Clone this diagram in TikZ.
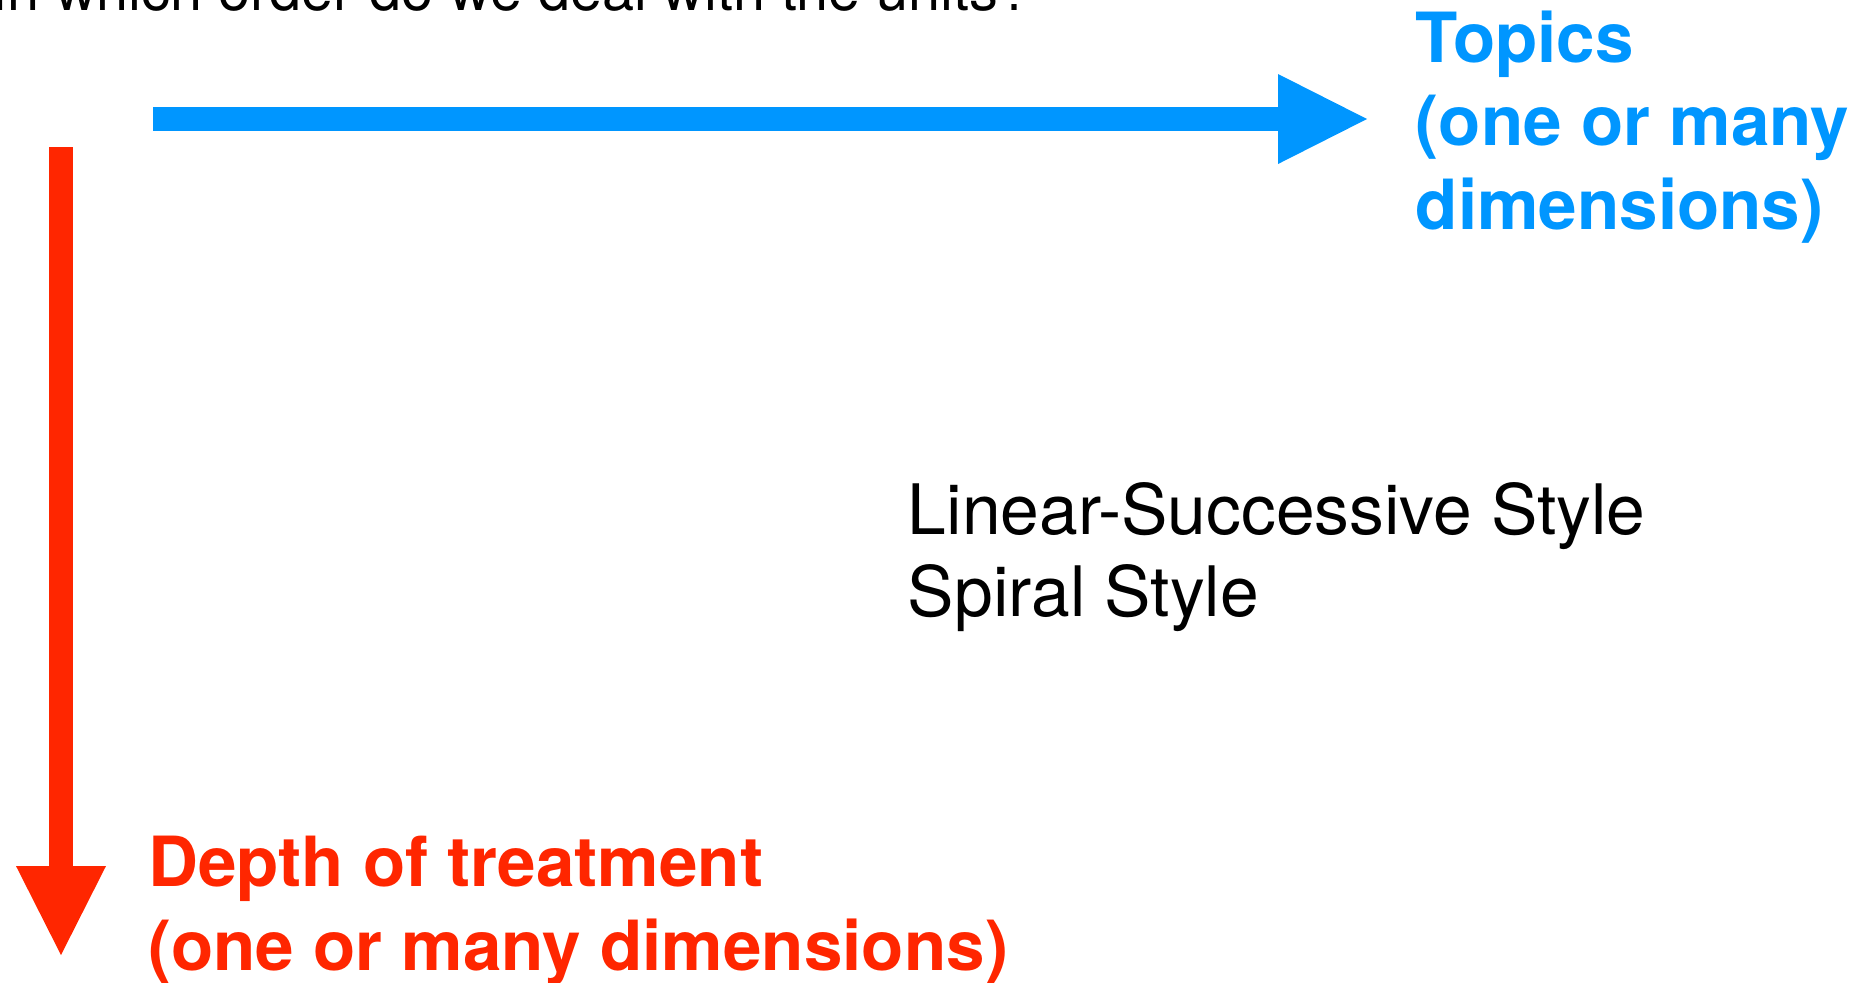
\documentclass[tikz,border=0pt]{standalone}
\usepackage{fontspec}
\setmainfont{TeX Gyre Heros}
\usetikzlibrary{arrows.meta}
\definecolor{topicblue}{RGB}{0,150,255}
\definecolor{depthred}{RGB}{255,38,0}
\tikzset{
  axisarrow/.style={line width=12pt,
    -{Triangle[length=44.5pt,width=45pt,line width=0pt]}},
  % multi-line nodes: the base anchor sits on the last line
  axistext/.style={inner sep=0pt, anchor=base west, align=left,
    font=\bfseries\fontsize{34.6pt}{41.7pt}\selectfont},
  bodytext/.style={inner sep=0pt, anchor=base west, align=left,
    font=\fontsize{34.8pt}{41pt}\selectfont},
}
\begin{document}
\begin{tikzpicture}[x=0.5pt,y=-0.5pt]
\useasboundingbox (0,0) rectangle (1872,982);

% heading, partly above the top edge
\node[inner sep=0pt, anchor=base east, font=\fontsize{28.8pt}{34pt}\selectfont]
  (question) at (1031,10) {In which order do we deal with the units?};

% horizontal axis: topics
\coordinate (topicsStart) at (153,119);
\coordinate (topicsEnd) at (1367,119);
\draw[axisarrow, topicblue] (topicsStart) -- (topicsEnd);
\node[axistext, text=topicblue] (topics) at (1415.5,229)
  {Topics\\(one or many\\dimensions)};

% vertical axis: depth of treatment
\coordinate (depthStart) at (61,147);
\coordinate (depthEnd) at (61,955);
\draw[axisarrow, depthred] (depthStart) -- (depthEnd);
\node[axistext, text=depthred] (depth) at (147.7,970)
  {Depth of treatment\\(one or many dimensions)};

% the two styles
\node[bodytext] (styles) at (907.5,616.7)
  {Linear-Successive Style\\Spiral Style};
\end{tikzpicture}
\end{document}
